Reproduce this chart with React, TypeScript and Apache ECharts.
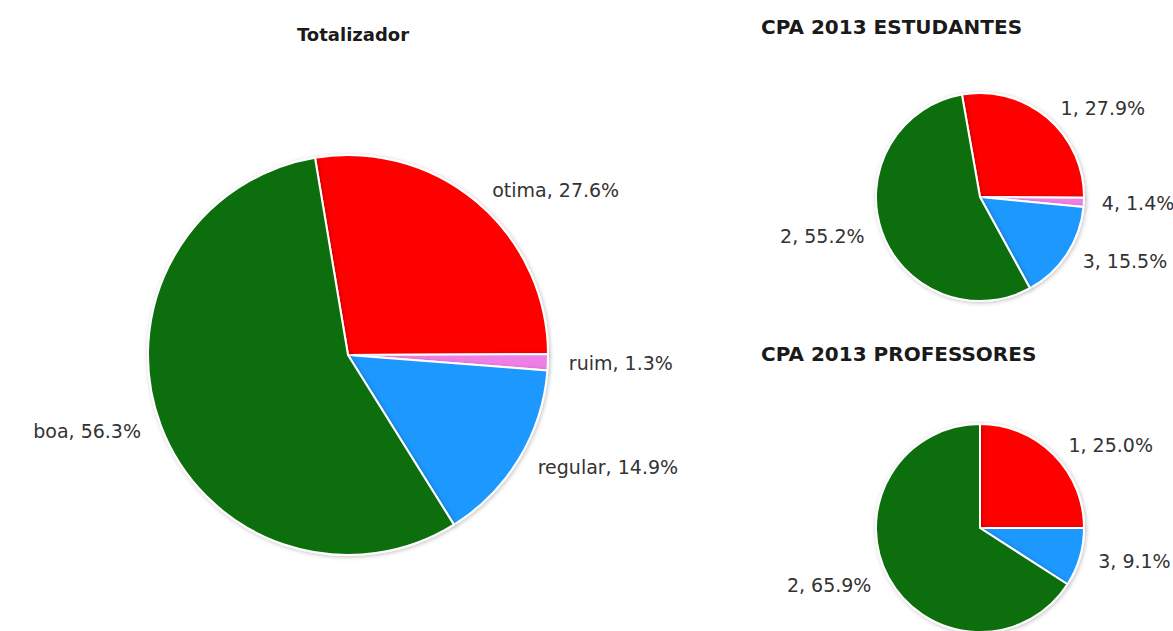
import React, { useEffect, useRef } from "react";
import * as echarts from "echarts";

const totalNames = ["otima", "ruim", "regular", "boa"];
const totalValues = [27.6, 1.3, 14.9, 56.3];

const estudNames = ["1", "4", "3", "2"];
const estudValues = [27.9, 1.4, 15.5, 55.2];

const profNames = ["1", "3", "2"];
const profValues = [25.0, 9.1, 65.9];

const colorMap: Record<string, string> = {
  otima: "#ff0000",
  ruim: "#ee7fe6",
  regular: "#1a98ff",
  boa: "#0b6e0b",
  "1": "#ff0000",
  "4": "#ee7fe6",
  "3": "#1a98ff",
  "2": "#0b6e0b",
};

function mkData(names: string[], values: number[]) {
  return names.map((n, i) => ({
    name: n,
    value: values[i],
    itemStyle: { color: colorMap[n] },
  }));
}

const fmt = (p: any) => `${p.name}, ${Number(p.value).toFixed(1)}%`;

export default function App() {
  const ref = useRef<HTMLDivElement>(null);
  useEffect(() => {
    if (!ref.current) return;
    const chart = echarts.init(ref.current, null, { renderer: "svg" });
    const itemStyle = {
      borderColor: "#ffffff",
      borderWidth: 2,
      shadowBlur: 4,
      shadowColor: "rgba(0,0,0,0.25)",
      shadowOffsetX: 1,
      shadowOffsetY: 1,
    };
    const labelBase = {
      show: true,
      position: "outside",
      formatter: fmt,
      color: "#333333",
      fontFamily: "DejaVu Sans",
      width: 300,
      overflow: "none",
    };
    chart.setOption({
      animation: false,
      backgroundColor: "#ffffff",
      title: [
        {
          text: "Totalizador",
          left: 348,
          top: 20,
          textAlign: "center",
          textStyle: { fontFamily: "DejaVu Sans", fontWeight: "bold", fontSize: 18, color: "#1a1a1a" },
        },
        {
          text: "CPA 2013 ESTUDANTES",
          left: 756,
          top: 12,
          textStyle: { fontFamily: "DejaVu Sans", fontWeight: "bold", fontSize: 20, color: "#1a1a1a" },
        },
        {
          text: "CPA 2013 PROFESSORES",
          left: 756,
          top: 339,
          textStyle: { fontFamily: "DejaVu Sans", fontWeight: "bold", fontSize: 20, color: "#1a1a1a" },
        },
      ],
      series: [
        {
          type: "pie",
          center: [348, 355],
          radius: 200,
          startAngle: 99.5,
          clockwise: true,
          avoidLabelOverlap: false,
          data: mkData(totalNames, totalValues),
          itemStyle,
          label: { ...labelBase, fontSize: 19 },
          labelLine: { show: false, length: 16, length2: 0 },
          emphasis: { disabled: true },
        },
        {
          type: "pie",
          center: [980, 197],
          radius: 104,
          startAngle: 100,
          clockwise: true,
          avoidLabelOverlap: false,
          data: mkData(estudNames, estudValues),
          itemStyle,
          label: { ...labelBase, fontSize: 19 },
          labelLine: { show: false, length: 13, length2: 0 },
          emphasis: { disabled: true },
        },
        {
          type: "pie",
          center: [980, 528],
          radius: 104,
          startAngle: 90,
          clockwise: true,
          avoidLabelOverlap: false,
          data: mkData(profNames, profValues),
          itemStyle,
          label: { ...labelBase, fontSize: 19 },
          labelLine: { show: false, length: 14, length2: 0 },
          emphasis: { disabled: true },
        },
      ],
    });
    return () => chart.dispose();
  }, []);
  return (
    <div
      ref={ref}
      style={{ position: "fixed", left: 0, top: 0, width: 1173, height: 631 }}
    />
  );
}
